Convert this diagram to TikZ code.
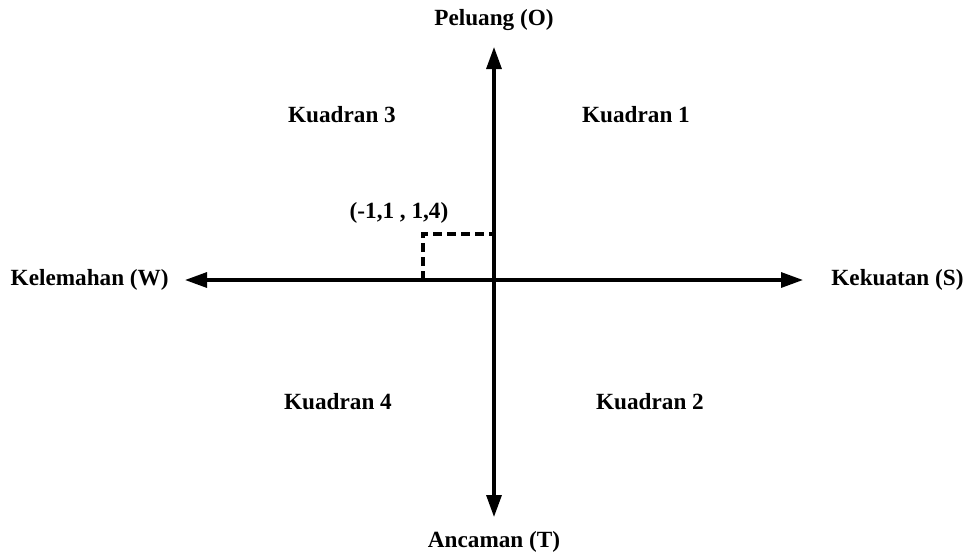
\documentclass[tikz,border=0pt]{standalone}
\usepackage{fontspec}
\setmainfont{Liberation Serif}
\usetikzlibrary{arrows.meta,positioning}

\begin{document}
\begin{tikzpicture}[
    x=0.5pt, y=0.5pt,
    font=\fontsize{11.6}{14}\selectfont\bfseries,
    axis/.style={{Triangle[length=11pt,width=7.5pt]}-{Triangle[length=11pt,width=7.5pt]},
                 line width=1.6pt, black},
    guide/.style={line width=1.6pt, dash pattern=on 4.5pt off 2.5pt, black},
    quadrant/.style={inner sep=0pt, anchor=center}
]
\useasboundingbox (0,0) rectangle (968,554);

% axes
\coordinate (origin) at (494,274);
\coordinate (north) at (494,507);
\coordinate (south) at (494,37);
\coordinate (west) at (185,274);
\coordinate (east) at (803,274);
\draw[axis] (west) -- (east);
\draw[axis] (south) -- (north);

\node[above=8pt of north, inner sep=0pt] (peluang) {Peluang (O)};
\node[below=7pt of south, inner sep=0pt] (ancaman) {Ancaman (T)};
\node[left=8pt of west, inner sep=0pt] (kelemahan) {Kelemahan (W)};
\node[right=14pt of east, inner sep=0pt] (kekuatan) {Kekuatan (S)};

% quadrants
\node[quadrant] (q3) at (342,439) {Kuadran 3};
\node[quadrant] (q1) at (636,439) {Kuadran 1};
\node[quadrant] (q4) at (338,152) {Kuadran 4};
\node[quadrant] (q2) at (650,152) {Kuadran 2};

% position point
\coordinate (point) at (423,320);
\coordinate (pointx) at (423,274);
\coordinate (pointy) at (494,320);
\draw[guide] (pointx) -- (point) -- (pointy);
\node[inner sep=0pt] (pointlabel) at (399,341) {(-1,1 , 1,4)};
\end{tikzpicture}
\end{document}
